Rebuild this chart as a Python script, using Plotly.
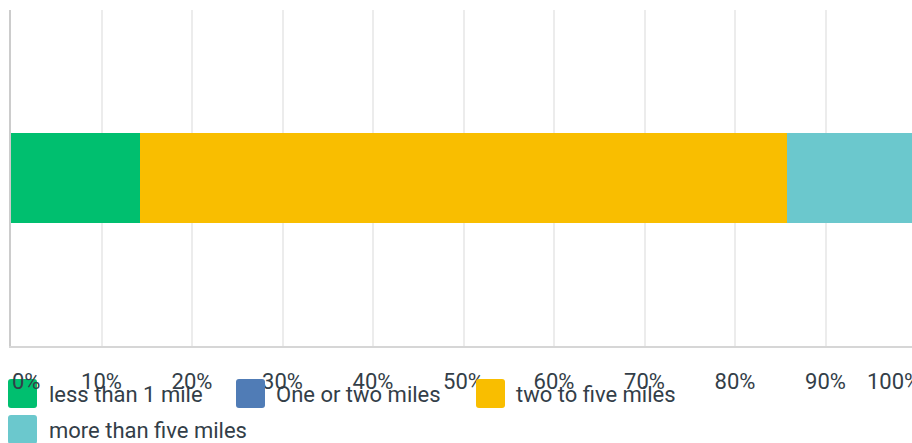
import plotly.graph_objects as go

categories = [""]
series_names = ["less than 1 mile", "One or two miles", "two to five miles", "more than five miles"]
series_values = [14.29, 0.0, 71.43, 14.28]
series_colors = ["#00bf6f", "#507cb6", "#f9be00", "#6bc8cd"]
tick_values = [0, 10, 20, 30, 40, 50, 60, 70, 80, 90, 100]
tick_labels = ["0%", "10%", "20%", "30%", "40%", "50%", "60%", "70%", "80%", "90%", "100%"]

W, H = 912, 443
L, R, T, B = 11, 0, 10, 97
plot_w = W - L - R
plot_h = H - T - B
x_max = 100 * plot_w / 905.0  # 100% falls just past the window edge

TEXT = "#333e48"
FONT = "Roboto"
TICK_SIZE = 22

fig = go.Figure()
for name, val, col in zip(series_names, series_values, series_colors):
    fig.add_trace(go.Bar(
        y=categories, x=[val], name=name, orientation="h",
        marker=dict(color=col, line=dict(width=0)), width=0.268,
        showlegend=False, hoverinfo="x+name",
    ))

def px2x(px):
    return (px - L) / plot_w

def py2y(py):
    return (H - B - py) / plot_h

# end tick labels, nudged inside the chart like the original
fig.add_annotation(x=px2x(10), y=py2y(381), xref="paper", yref="paper",
                   text=tick_labels[0], showarrow=False, xanchor="left", yanchor="middle",
                   font=dict(family=FONT, size=TICK_SIZE, color=TEXT))
fig.add_annotation(x=px2x(865), y=py2y(381), xref="paper", yref="paper",
                   text=tick_labels[-1], showarrow=False, xanchor="left", yanchor="middle",
                   font=dict(family=FONT, size=TICK_SIZE, color=TEXT))

def rounded_rect(x0, y0, x1, y1, r=3):
    # pixel coords -> paper path with rounded corners
    pts = []
    X = px2x
    Y = py2y
    pts.append(f"M {X(x0 + r)},{Y(y0)}")
    pts.append(f"L {X(x1 - r)},{Y(y0)}")
    pts.append(f"Q {X(x1)},{Y(y0)} {X(x1)},{Y(y0 + r)}")
    pts.append(f"L {X(x1)},{Y(y1 - r)}")
    pts.append(f"Q {X(x1)},{Y(y1)} {X(x1 - r)},{Y(y1)}")
    pts.append(f"L {X(x0 + r)},{Y(y1)}")
    pts.append(f"Q {X(x0)},{Y(y1)} {X(x0)},{Y(y1 - r)}")
    pts.append(f"L {X(x0)},{Y(y0 + r)}")
    pts.append(f"Q {X(x0)},{Y(y0)} {X(x0 + r)},{Y(y0)}")
    pts.append("Z")
    return " ".join(pts)

# manual legend
legend_pos = [(8, 379, 47), (236, 379, 274), (476, 379, 514), (8, 415, 47)]
for (bx, by, tx), name, col in zip(legend_pos, series_names, series_colors):
    fig.add_shape(type="path", xref="paper", yref="paper",
                  path=rounded_rect(bx, by, bx + 29, by + 29),
                  fillcolor=col, line=dict(width=0), layer="above")
    fig.add_annotation(x=px2x(tx), y=py2y(by + 15), xref="paper", yref="paper",
                       text=name, showarrow=False, xanchor="left", yanchor="middle",
                       font=dict(family=FONT, size=22, color=TEXT))

fig.update_layout(
    barmode="stack",
    width=W, height=H,
    margin=dict(l=L, r=R, t=T, b=B, pad=0),
    paper_bgcolor="white", plot_bgcolor="white",
    font=dict(family=FONT, color=TEXT),
    xaxis=dict(range=[0, x_max], tickvals=tick_values[1:-1], ticktext=tick_labels[1:-1],
               showgrid=True, gridcolor="#ececec", gridwidth=1.5,
               showline=True, linecolor="#d6d6d6", linewidth=2,
               ticks="outside", ticklen=15, tickcolor="rgba(0,0,0,0)",
               tickfont=dict(family=FONT, size=TICK_SIZE, color=TEXT),
               zeroline=False, fixedrange=True),
    yaxis=dict(range=[-0.5, 0.5], showticklabels=False, showgrid=False,
               showline=True, linecolor="#cccccc", linewidth=2, zeroline=False,
               fixedrange=True),
    showlegend=False,
)

fig.write_html("out.html")
